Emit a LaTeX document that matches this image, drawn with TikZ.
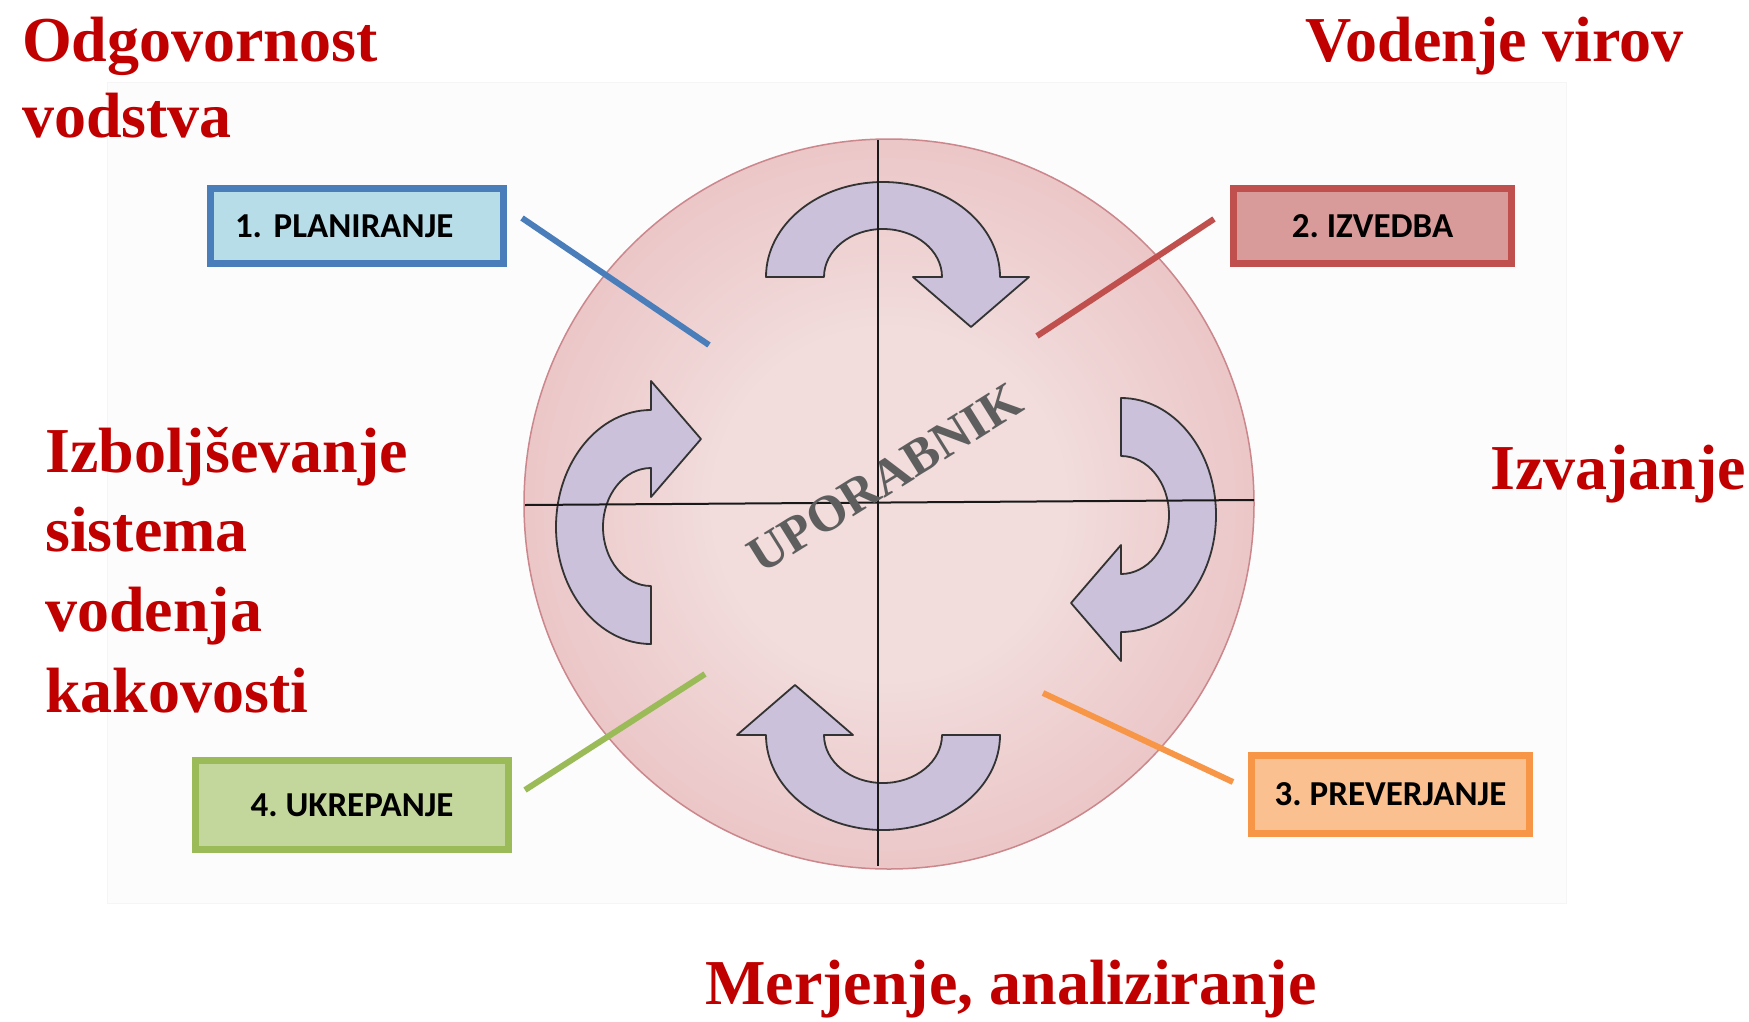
\documentclass[tikz,border=0pt]{standalone}
\usepackage{fontspec}
\setmainfont{Liberation Serif}
\newfontfamily\boxfont{Carlito}
\frenchspacing

% palette
\definecolor{titlered}{HTML}{C00000}
\definecolor{diskin}{HTML}{F2DCDC}
\definecolor{diskmid}{HTML}{E7B9BB}
\definecolor{diskout}{HTML}{D38C90}
\definecolor{diskedge}{HTML}{CB878B}
\definecolor{arrowfill}{HTML}{CCC1DA}
\definecolor{arrowline}{HTML}{333333}
\definecolor{usergray}{HTML}{5E5E5E}
\definecolor{planline}{HTML}{4A7EBB}
\definecolor{planfill}{HTML}{B7DEE8}
\definecolor{doline}{HTML}{C0504D}
\definecolor{dofill}{HTML}{D99A9A}
\definecolor{checkline}{HTML}{F79646}
\definecolor{checkfill}{HTML}{FAC090}
\definecolor{actline}{HTML}{9BBB59}
\definecolor{actfill}{HTML}{C3D69B}

\pgfdeclareradialshading{discshade}{\pgfpoint{0bp}{0bp}}{%
  color(0bp)=(diskin); color(12bp)=(diskin); color(33bp)=(diskmid); color(50bp)=(diskout)}

\tikzset{
  heading/.style={text=titlered, font=\fontsize{64}{76}\selectfont\bfseries,
    anchor=base west, inner sep=0pt},
  stepbox/.style={draw, line width=7pt, text=black, inner sep=0pt,
    font=\boxfont\fontsize{35}{40}\selectfont\bfseries},
  link/.style={line width=6pt},
  cyclearrow/.style={fill=arrowfill, draw=arrowline, line width=1.8pt, line join=round},
  axisline/.style={draw=black!90, line width=2pt}
}

% one curved arrow of the cycle, drawn around the local origin
\newcommand{\cyclepiece}{%
  \path[cyclearrow] (-117,0)
    arc[start angle=180, end angle=0, x radius=117pt, y radius=95pt]
    -- (146,0) -- (88,50) -- (30,0) -- (59,0)
    arc[start angle=0, end angle=180, x radius=59pt, y radius=48pt]
    -- cycle;}

\begin{document}
\begin{tikzpicture}[x=1pt, y=-1pt]
  \useasboundingbox (0,0) rectangle (1749,1021);

  % faint panel behind the cycle
  \path[fill=black!1, draw=black!4, line width=1pt] (107,82) rectangle (1566,903);

  % central disc
  \node[circle, minimum size=730pt, inner sep=0pt, shade, shading=discshade,
        draw=diskedge, line width=1.5pt] (disk) at (889,504) {};

  % four curved arrows running clockwise
  \begin{scope}[shift={(883,277)}]\cyclepiece\end{scope}
  \begin{scope}[shift={(1121,515)}, rotate=-90]\cyclepiece\end{scope}
  \begin{scope}[shift={(883,735)}, rotate=180]\cyclepiece\end{scope}
  \begin{scope}[shift={(651,527)}, rotate=90]\cyclepiece\end{scope}

  % quadrant axes
  \coordinate (vtop) at (878,140);
  \coordinate (vbot) at (878,866);
  \coordinate (hleft) at (525,505);
  \coordinate (hright) at (1254,500);
  \draw[axisline] (vtop) -- (vbot);
  \draw[axisline] (hleft) -- (hright);

  % step boxes
  \node[stepbox, draw=planline, fill=planfill, minimum width=293pt, minimum height=75pt,
        text width=244pt, align=left, inner xsep=24.5pt] (plan) at (357,226) {1. PLANIRANJE};
  \node[stepbox, draw=doline, fill=dofill, minimum width=278pt, minimum height=75pt]
        (do) at (1372.5,226) {2. IZVEDBA};
  \node[stepbox, draw=checkline, fill=checkfill, minimum width=278pt, minimum height=78pt]
        (check) at (1390.5,794.5) {3. PREVERJANJE};
  \node[stepbox, draw=actline, fill=actfill, minimum width=313pt, minimum height=89pt]
        (act) at (352,805) {4. UKREPANJE};

  % leader lines from the boxes into the disc
  \coordinate (planout) at (522,218);   \coordinate (planin) at (709,345);
  \coordinate (doout) at (1214,219);    \coordinate (doin) at (1037,336);
  \coordinate (checkout) at (1233,782); \coordinate (checkin) at (1043,693);
  \coordinate (actout) at (525,790);    \coordinate (actin) at (705,674);
  \draw[link, planline] (planout) -- (planin);
  \draw[link, doline] (doout) -- (doin);
  \draw[link, checkline] (checkout) -- (checkin);
  \draw[link, actline] (actout) -- (actin);

  % headings around the cycle
  \node[heading] (lead1) at (22,61) {Odgovornost};
  \node[heading] (lead2) at (22,137) {vodstva};
  \node[heading] (res) at (1305,61) {Vodenje virov};
  \node[heading] (impl) at (1490,489) {Izvajanje};
  \node[heading] (imp1) at (45,472) {Izboljševanje};
  \node[heading] (imp2) at (45,551) {sistema};
  \node[heading] (imp3) at (45,631) {vodenja};
  \node[heading] (imp4) at (45,712) {kakovosti};
  \node[heading] (meas) at (705,1004) {Merjenje, analiziranje};

  % user in the middle
  \node[rotate=32, text=usergray, inner sep=0pt,
        font=\fontsize{51}{60}\selectfont\bfseries] (user) at (885,478) {UPORABNIK};
\end{tikzpicture}
\end{document}
